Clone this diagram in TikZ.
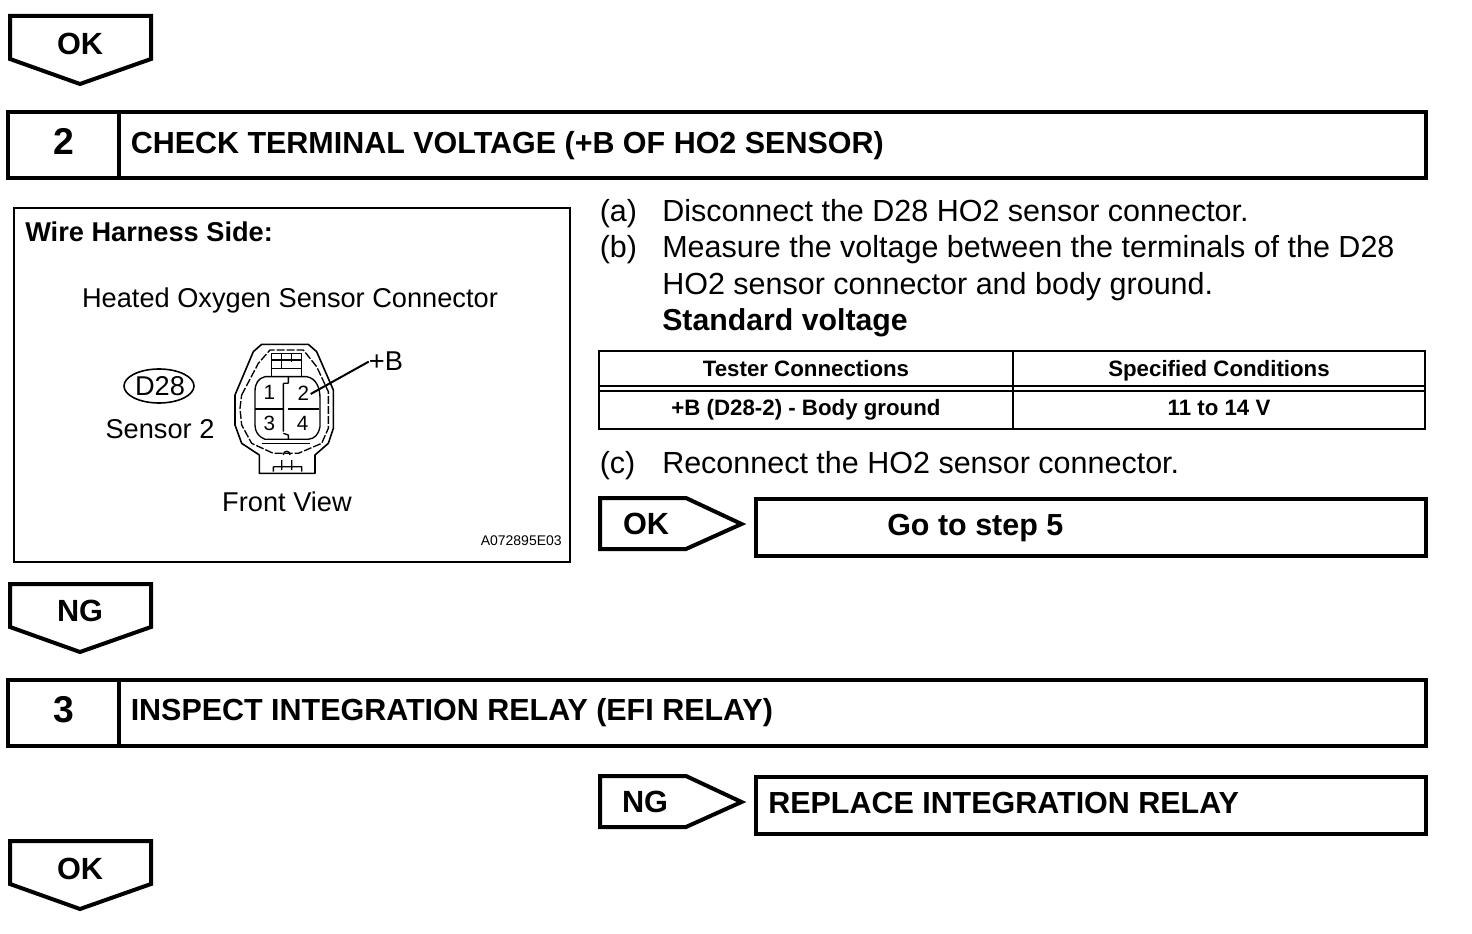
\documentclass[tikz,border=0pt]{standalone}
\usepackage{fontspec}
\setmainfont{Liberation Sans}
\tikzset{
  thick box/.style={draw=black,line width=3pt,fill=white,line join=miter},
  thin box/.style={draw=black,line width=1.5pt},
  tag/.style={draw=black,line width=3pt,line join=miter,miter limit=10},
  body/.style={inner sep=0pt,anchor=base west,font=\fontsize{22.87}{28}\selectfont},
  boldt/.style={inner sep=0pt,anchor=base west,font=\fontsize{22.85}{28}\selectfont\bfseries},
  tagt/.style={inner sep=0pt,anchor=base,font=\fontsize{23}{28}\selectfont\bfseries},
  numt/.style={inner sep=0pt,anchor=base,font=\fontsize{28}{32}\selectfont\bfseries},
  tblt/.style={inner sep=0pt,anchor=base,font=\fontsize{16.7}{20}\selectfont\bfseries},
  lab/.style={inner sep=0pt,anchor=base,font=\fontsize{20.4}{24}\selectfont},
  pin/.style={inner sep=0pt,anchor=base,font=\fontsize{15.5}{17}\selectfont},
  conn/.style={draw=black,line width=1pt,line join=round}
}
\begin{document}
\begin{tikzpicture}[x=.75pt,y=-.75pt]
\useasboundingbox (0,0) rectangle (1472,934);
\fill[white] (0,0) rectangle (1472,934);
% OK top
\draw[tag] (10,16) -- (151,16) -- (151,59) -- (80,84) -- (10,59) -- cycle;
\node[tagt] (ok1) at (80,55) {OK};
% step 2
\draw[thick box] (8,112) rectangle (1426,178);
\draw[line width=3pt] (119,112) -- (119,178);
\node[numt] (n2) at (64,155) {2};
\node[boldt] (t2) at (130.5,154) {CHECK TERMINAL VOLTAGE (+B OF HO2 SENSOR)};
% figure box
\draw[thin box] (14,208) rectangle (570,562);
\node[lab,anchor=base west,font=\fontsize{20.4}{24}\selectfont\bfseries] (wh) at (25,242) {Wire Harness Side:};
\node[lab] (hos) at (290,308) {Heated Oxygen Sensor Connector};
\draw[line width=1.2pt] (159,386) ellipse (35 and 17);
\node[lab] (d28) at (160,396) {D28};
\node[lab] (s2) at (160,439) {Sensor 2};
\node[lab] (fv) at (287,511) {Front View};
\node[inner sep=0pt,anchor=base east,font=\fontsize{10.5}{12}\selectfont] (code) at (562,545) {A072895E03};
% connector
\begin{scope}[shift={(220,335)},x=.25pt,y=-.25pt]
\draw[conn,line width=1.2pt] (118,360) -- (118,415) -- (285,415) -- (285,360) -- (325,325) -- (340,280) -- (340,165) -- (290,50) -- (265,28) -- (125,28) -- (100,50) -- (45,180) -- (45,270) -- (65,325) -- (118,360);
\draw[conn,dash pattern=on 6pt off 1.5pt] (65,180) -- (115,85) -- (150,45) -- (250,45) -- (290,95) -- (325,170) -- (325,280) -- (305,325) -- (235,355) -- (160,355) -- (95,325) -- (65,270) -- (60,220) -- cycle;
\draw[conn] (155,125) -- (155,55) -- (245,55) -- (245,125);
\draw[conn] (185,55) -- (185,100) (215,55) -- (215,80) (155,75) -- (245,75) (155,100) -- (245,100);
\draw[conn] (135,125) -- (260,125) .. controls (290,130) and (300,160) .. (300,190) -- (300,275) .. controls (295,300) and (285,310) .. (265,313) -- (135,313) .. controls (115,305) and (105,290) .. (105,270) -- (105,170) .. controls (105,145) and (115,130) .. (135,125);
\draw[conn] (125,326) -- (270,326);
\draw[conn] (190,145) -- (190,290) (205,125) -- (205,145) (190,145) -- (205,145) (190,295) -- (205,300) -- (205,313);
\draw[conn] (105,222) -- (190,222) (205,222) -- (298,222);
\draw[conn] (160,395) -- (245,395) -- (245,410) (160,395) -- (160,410) (185,375) -- (185,405) (215,375) -- (215,405) (190,360) .. controls (190,345) and (210,345) .. (210,360);
\node[pin] (p1) at (148,195) {1};
\node[pin] (p2) at (250,197) {2};
\node[pin] (p3) at (148,287) {3};
\node[pin] (p4) at (248,287) {4};
\coordinate (pinB) at (272,177);
\end{scope}
\node[lab,font=\fontsize{20.4}{23}\selectfont] (plusb) at (386,371) {+B};
\draw[line width=1.5pt] (pinB) -- (plusb.west);
% steps text
\node[body] (la) at (599.5,222) {(a)};
\node[body] (ta) at (662,222) {Disconnect the D28 HO2 sensor connector.};
\node[body] (lb) at (599.5,258) {(b)};
\node[body] (tb1) at (662,258) {Measure the voltage between the terminals of the D28};
\node[body] (tb2) at (662,295) {HO2 sensor connector and body ground.};
\node[boldt,font=\fontsize{22.7}{28}\selectfont\bfseries] (tb3) at (662,331) {Standard voltage};
% table
\draw[thin box] (599,351) rectangle (1425,429);
\draw[line width=1.5pt] (599,386) -- (1425,386) (599,391) -- (1425,391) (1013,351) -- (1013,429);
\node[tblt] (h1) at (806,377) {Tester Connections};
\node[tblt] (h2) at (1219,377) {Specified Conditions};
\node[tblt] (c1) at (806,416) {+B (D28-2) - Body ground};
\node[tblt] (c2) at (1219,416) {11 to 14 V};
\node[body] (lc) at (599.5,474) {(c)};
\node[body] (tc) at (662,474) {Reconnect the HO2 sensor connector.};
% OK side
\draw[tag] (600,498) -- (686,498) -- (741.5,524) -- (686,549) -- (600,549) -- cycle;
\node[tagt] (ok2) at (646,534) {OK};
\draw[thick box] (756,499) rectangle (1426,556);
\node[boldt] (go) at (887,535) {Go to step 5};
% NG
\draw[tag] (10,584) -- (151,584) -- (151,627) -- (80,652) -- (10,627) -- cycle;
\node[tagt] (ng1) at (80,621) {NG};
% step 3
\draw[thick box] (8,680) rectangle (1426,746);
\draw[line width=3pt] (119,680) -- (119,746);
\node[numt] (n3) at (64,722) {3};
\node[boldt] (t3) at (130.5,720) {INSPECT INTEGRATION RELAY (EFI RELAY)};
% NG side
\draw[tag] (600,776) -- (686,776) -- (741.5,802) -- (686,827) -- (600,827) -- cycle;
\node[tagt] (ng2) at (645,812) {NG};
\draw[thick box] (756,777) rectangle (1426,834);
\node[boldt] (rep) at (768,813) {REPLACE INTEGRATION RELAY};
% OK bottom
\draw[tag] (10,841) -- (151,841) -- (151,884) -- (80,909) -- (10,884) -- cycle;
\node[tagt] (ok3) at (80,879) {OK};
\end{tikzpicture}
\end{document}
